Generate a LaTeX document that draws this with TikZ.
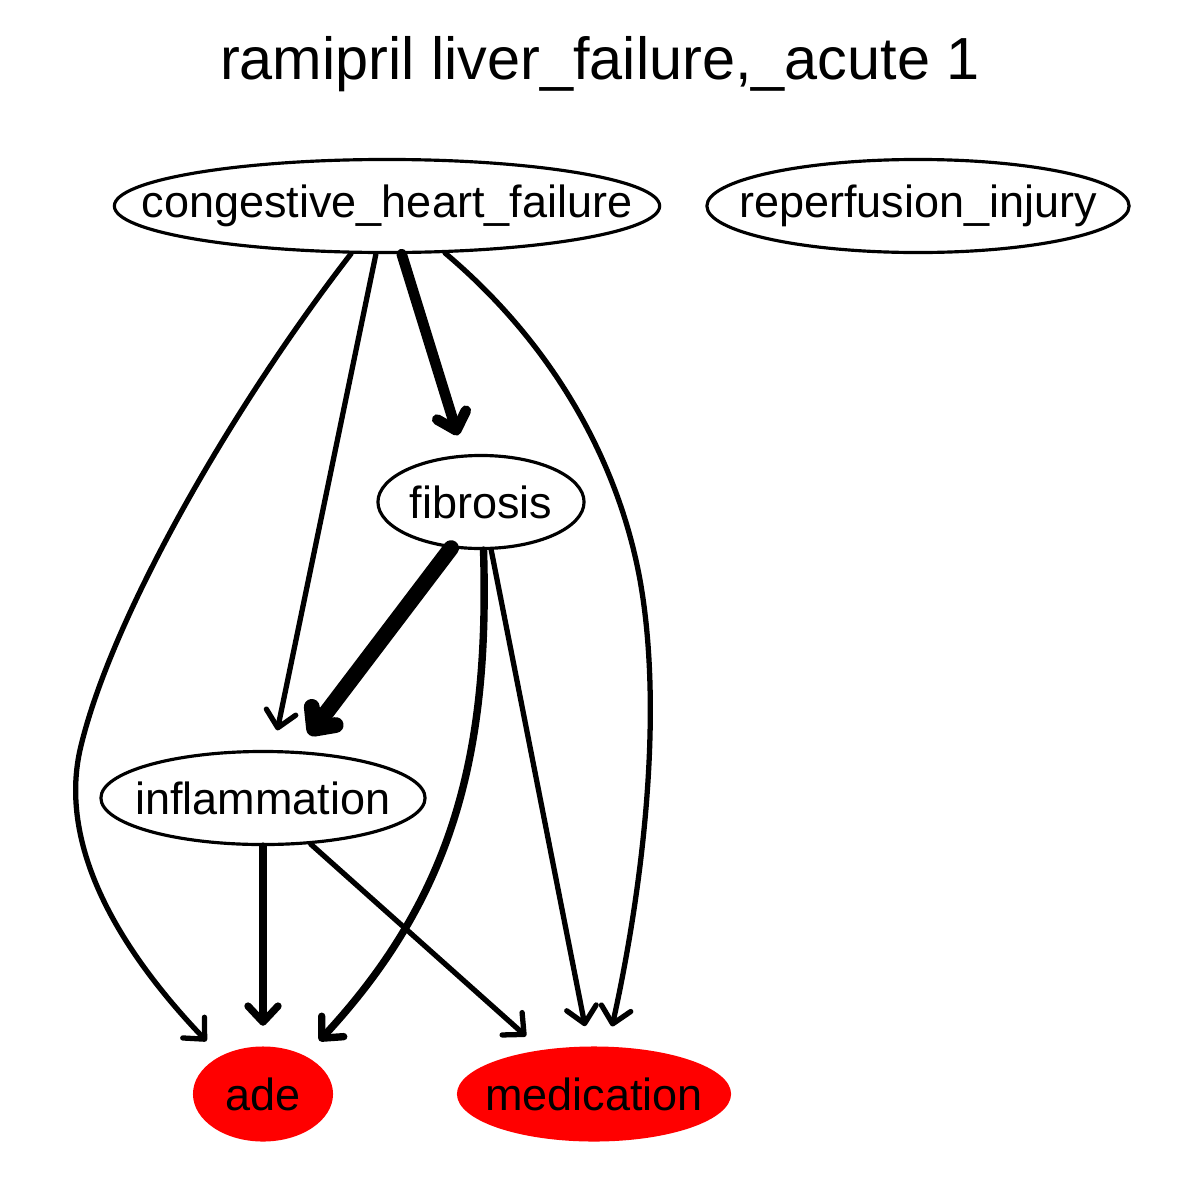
\documentclass[tikz,border=0pt]{standalone}
\usepackage{fontspec}
\setmainfont{Liberation Sans}
\usetikzlibrary{shapes.geometric, arrows.meta}

\tikzset{
  var/.style={ellipse, draw, line width=0.9pt, inner sep=0pt, minimum height=0.93cm, font=\fontsize{12.8}{15}\selectfont},
  outcome/.style={ellipse, fill=red, inner sep=0pt, minimum height=0.95cm, font=\fontsize{12.8}{15}\selectfont},
  edge/.style={-{Straight Barb[length=1.6mm, width=3mm, round]}, line cap=round, line join=round, shorten >=2mm},
  thinedge/.style={edge, line width=1.5pt},
  midedge/.style={edge, line width=2.1pt},
  thickedge/.style={edge, line width=3pt},
  heavyedge/.style={edge, line width=4.5pt}
}
\newcommand{\lbl}[1]{\makebox[0pt]{#1}}

\begin{document}
\begin{tikzpicture}[x=0.01cm, y=-0.01cm]
  \useasboundingbox (0,0) rectangle (1200,1200);

  % Title
  \node (title) at (600,64) {\fontsize{16.9}{20}\selectfont ramipril liver\_failure,\_acute 1};

  % Nodes
  \node[var, minimum width=5.45cm] (chf) at (387,206) {\lbl{congestive\_heart\_failure}};
  \node[var, minimum width=4.22cm] (rep) at (918,206) {\lbl{reperfusion\_injury}};
  \node[var, minimum width=2.06cm] (fib) at (481,502) {\lbl{fibrosis}};
  \node[var, minimum width=3.24cm] (inf) at (263,798) {\lbl{inflammation}};
  \node[outcome, minimum width=1.40cm] (ade) at (263,1094) {\lbl{ade}};
  \node[outcome, minimum width=2.74cm] (med) at (594,1094) {\lbl{medication}};

  % Edges
  \draw[thinedge] (chf.233) .. controls (230,410) and (110,620) .. (80,750)
                            .. controls (60,840) and (110,940) .. (ade.138);
  \draw[thinedge] (chf.257) -- (inf.78);
  \draw[thickedge] (chf.287) -- (fib.110);
  \draw[thinedge] (chf.321) .. controls (560,350) and (620,470) .. (640,580)
                            .. controls (665,720) and (640,900) .. (med.74);
  \draw[heavyedge] (fib.237) -- (inf.54);
  \draw[midedge] (fib.273) .. controls (490,760) and (450,900) .. (ade.42);
  \draw[thinedge] (fib.282) -- (med.96);
  \draw[midedge] (inf.south) -- (ade.north);
  \draw[thinedge] (inf.316) -- (med.140);
\end{tikzpicture}
\end{document}
